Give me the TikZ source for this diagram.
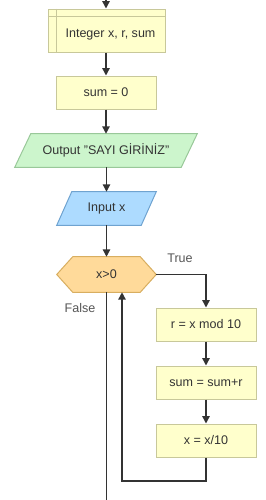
\documentclass[tikz,border=0pt]{standalone}
\usepackage{fontspec}
\setmainfont{Liberation Sans}
\usetikzlibrary{arrows.meta,calc,backgrounds}
\definecolor{boxfill}{HTML}{FFFFCC}
\definecolor{boxline}{HTML}{C8C89A}
\definecolor{outfill}{HTML}{CCF5CC}
\definecolor{outline}{HTML}{99C899}
\definecolor{infill}{HTML}{ADDBFF}
\definecolor{inline}{HTML}{6FA3D0}
\definecolor{condfill}{HTML}{FFDA9A}
\definecolor{condline}{HTML}{D8AE60}
\definecolor{linecol}{HTML}{333333}
\definecolor{textcol}{HTML}{333333}
\definecolor{labelcol}{HTML}{555555}
\begin{document}
\begin{tikzpicture}[x=0.75pt,y=-0.75pt,font=\fontsize{9.4}{11}\selectfont,text=textcol]
\tikzset{
  proc/.style={draw=boxline,fill=boxfill,line width=0.75pt,minimum width=75pt,minimum height=24.75pt,inner sep=0pt},
  shapebox/.style={minimum height=24.75pt,inner sep=0pt},
  flow/.style={draw=linecol,line width=1pt,-{Triangle[length=5.5pt,width=5.5pt]}},
  plainline/.style={draw=linecol,line width=1pt},
  lbl/.style={text=labelcol,inner sep=0pt}
}
\useasboundingbox (0,0) rectangle (266,500);
% declaration box
\node[proc,minimum width=87.75pt,minimum height=32.25pt] (decl) at (106.5,30.5) {};
\draw[boxline,line width=0.75pt] ($(decl.north west)+(8.5,0)$) -- ($(decl.south west)+(8.5,0)$);
\draw[boxline,line width=0.75pt] ($(decl.north west)+(0,8)$) -- ($(decl.north east)+(0,8)$);
\node[inner sep=0pt] (decltext) at (110.5,34.5) {Integer x, r, sum};
% init
\node[proc] (init) at (106,92.5) {sum = 0};
% output
\node[shapebox,minimum width=136.5pt] (out) at (106,150.5) {Output "SAYI GİRİNİZ"};
\begin{scope}[on background layer]
\draw[draw=outline,fill=outfill,line width=0.75pt] ($(out.north west)+(16,0)$) -- (out.north east) -- ($(out.south east)+(-16,0)$) -- (out.south west) -- cycle;
\end{scope}
% input
\node[shapebox,minimum width=74.25pt] (in) at (106.5,208.5) {Input x};
\begin{scope}[on background layer]
\draw[draw=inline,fill=infill,line width=0.75pt] ($(in.north west)+(15,0)$) -- (in.north east) -- ($(in.south east)+(-15,0)$) -- (in.south west) -- cycle;
\end{scope}
% condition
\node[shapebox,minimum width=74.25pt,minimum height=26.25pt] (cond) at (106.5,274.5) {x>0};
\begin{scope}[on background layer]
\draw[draw=condline,fill=condfill,line width=0.75pt] ($(cond.north west)+(16,0)$) -- ($(cond.north east)+(-16,0)$) -- (cond.east) -- ($(cond.south east)+(-16,0)$) -- ($(cond.south west)+(16,0)$) -- (cond.west) -- cycle;
\end{scope}
% loop body
\node[proc] (r1) at (206,324.5) {r = x mod 10};
\node[proc] (r2) at (206,382.5) {sum = sum+r};
\node[proc] (r3) at (206,440.5) {x = x/10};
% labels
\node[lbl] (truelbl) at (180,258) {True};
\node[lbl] (falselbl) at (80,308) {False};
% connectors
\coordinate (start) at (106,0);
\coordinate (loopc) at (122,481);
\coordinate (finish) at (106.5,500);
\draw[flow] (start) -- (decl.north -| start);
\draw[flow] (decl.south -| init.north) -- (init.north);
\draw[flow] (init) -- (out);
\draw[flow] (out.south -| in.north) -- (in.north);
\draw[flow] (in) -- (cond);
\draw[flow] (cond.east) -| (r1.north);
\draw[flow] (r1) -- (r2);
\draw[flow] (r2) -- (r3);
\draw[flow] (r3.south) |- (loopc) -- (loopc |- cond.south);
\draw[plainline] (cond.south) -- (finish);
\end{tikzpicture}
\end{document}
